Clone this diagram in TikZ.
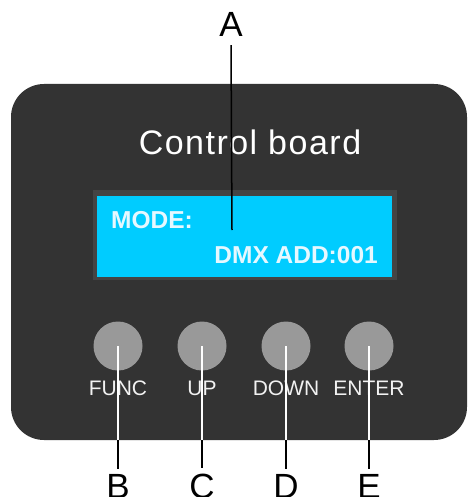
\documentclass[tikz,border=0pt]{standalone}
\usepackage{fontspec}
\setmainfont{Liberation Sans}
\definecolor{boardgray}{HTML}{333333}
\definecolor{framegray}{HTML}{444444}
\definecolor{lcdcyan}{HTML}{00CCFF}
\definecolor{lcdtext}{HTML}{E6F8FF}
\definecolor{btngray}{HTML}{999999}
\definecolor{lbltext}{HTML}{F2F2F2}
\begin{document}
\begin{tikzpicture}[x=1pt,y=-1pt,
  board/.style={fill=boardgray, rounded corners=33pt},
  btn/.style={circle, fill=btngray, minimum size=49pt, inner sep=0pt},
  btnlabel/.style={anchor=base, inner sep=0pt, text=lbltext, font=\fontsize{21}{21}\selectfont},
  lcdlabel/.style={inner sep=0pt, text=lcdtext, font=\fontsize{24.5}{24.5}\selectfont\bfseries},
  letter/.style={anchor=base, inner sep=0pt, font=\fontsize{35}{35}\selectfont},
  blackline/.style={draw=black, line width=1.5pt},
  whiteline/.style={draw=white, line width=1.5pt}]
\useasboundingbox (0,0) rectangle (468,497);
% board
\fill[board] (11,84) rectangle (467,440);
% LCD
\fill[framegray] (93,190) rectangle (397,280);
\fill[lcdcyan] (97,196) rectangle (392,277);
\node[lcdlabel, anchor=base west] (mode) at (111,228) {MODE:};
\node[lcdlabel, anchor=base east] (dmx) at (378,263) {DMX ADD:001};
% title
\node[anchor=base, inner sep=0pt, text=white, font=\fontsize{34}{34}\selectfont\addfontfeature{LetterSpace=4.4}] (title) at (250,154) {Control board};
% label A
\node[letter] (lA) at (231,37) {A};
\coordinate (lcdpt) at (232,230);
\draw[blackline] ([yshift=-8pt]lA.south) -- (lcdpt);
% buttons
\foreach \n/\x/\t/\L in {func/118/FUNC/B, up/202/UP/C, down/286/DOWN/D, enter/369/ENTER/E}{
  \node[btn] (\n) at (\x,346) {};
  \node[btnlabel] (\n lbl) at (\x,395) {\t};
  \coordinate (\n edge) at (\x,440);
  \node[letter] (\n L) at (\x,498) {\L};
  \draw[whiteline] (\n.center) -- (\n edge);
  \draw[blackline] (\n edge) -- ([yshift=5pt]\n L.north);
}
\end{tikzpicture}
\end{document}
